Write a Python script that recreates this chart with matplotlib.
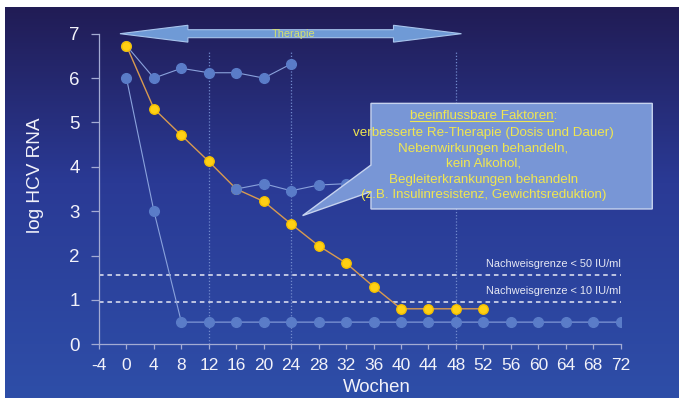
import numpy as np
import matplotlib
matplotlib.use("Agg")
import matplotlib.pyplot as plt
from matplotlib.colors import LinearSegmentedColormap
from matplotlib.patches import Polygon

plt.rcParams["font.family"] = ["Liberation Sans", "DejaVu Sans"]
plt.rcParams["axes.unicode_minus"] = False

# data
weeks_ticks = list(range(-4, 76, 4))
hcv_ticks = list(range(0, 8))

weeks_a = [0, 4, 8, 12, 16, 20, 24]
hcv_a = [6.73, 6.0, 6.22, 6.12, 6.12, 6.0, 6.32]

weeks_b = [16, 20, 24, 28, 32]
hcv_b = [3.5, 3.62, 3.46, 3.59, 3.62]

weeks_c = [0, 4] + list(range(8, 76, 4))
hcv_c = [6.0, 3.0] + [0.5] * 17

weeks_y = [0, 4, 8, 12, 16, 20, 24, 28, 32, 36, 40, 44, 48, 52]
hcv_y = [6.73, 5.31, 4.71, 4.12, 3.5, 3.22, 2.71, 2.22, 1.83, 1.3, 0.8, 0.8, 0.8, 0.8]

vlines_x = [12, 24, 48]
limits = [1.56, 0.96]
limit_labels = ["Nachweisgrenze < 50 IU/ml", "Nachweisgrenze < 10 IU/ml"]
limit_label_y = [1.81, 1.19]

callout_lines = [
    "verbesserte Re-Therapie (Dosis und Dauer)",
    "Nebenwirkungen behandeln,",
    "kein Alkohol,",
    "Begleiterkrankungen behandeln",
    "(z.B. Insulinresistenz, Gewichtsreduktion)",
]

W, H = 679, 401
fig = plt.figure(figsize=(W / 100, H / 100), dpi=100, facecolor="white")

# background gradient
bg = fig.add_axes([5 / W, 3 / H, 674 / W, 391 / H])
cmap = LinearSegmentedColormap.from_list(
    "bg", [(0, "#211c55"), (0.45, "#2a3a95"), (1, "#2e4ea8")])
grad = np.linspace(0, 1, 256).reshape(-1, 1)
bg.imshow(grad, aspect="auto", cmap=cmap, extent=[0, 1, 0, 1], origin="upper")
bg.set_axis_off()

x0, x1 = 99, 620.7
ytop, ybot = 33.7, 344.3
ax = fig.add_axes([x0 / W, (H - ybot) / H, (x1 - x0) / W, (ybot - ytop) / H])
ax.set_facecolor("none")
ax.set_xlim(-4, 72)
ax.set_ylim(0, 7)

for s in ["top", "right"]:
    ax.spines[s].set_visible(False)
for s in ["left", "bottom"]:
    ax.spines[s].set_color("#a3abd3")
    ax.spines[s].set_linewidth(0.9)

ax.set_xticks(weeks_ticks)
ax.set_yticks(hcv_ticks)
ax.tick_params(axis="y", direction="out", length=6, width=0.9, color="#a3abd3",
               labelcolor="#f2f2fa", labelsize=13.5, pad=8)
ax.tick_params(axis="x", direction="out", length=3.6, width=0.9, color="#a3abd3",
               labelcolor="#f2f2fa", labelsize=12.5, pad=6)

# vertical dotted guides and detection limits
for xv in vlines_x:
    ax.plot([xv, xv], [0, 6.6], color="#7189cc", lw=0.9, ls=(0, (1, 1.5)), zorder=1)
for yv, lab, ly in zip(limits, limit_labels, limit_label_y):
    ax.axhline(yv, color="#e6e8f4", lw=1.1, ls=(0, (3, 2.5)), zorder=1)
    ax.text(72, ly, lab, ha="right", va="center", color="#e6e8f4", fontsize=7.9)

blue_line = "#8aa2dc"
blue_dot = "#5a7cc8"
ax.plot(weeks_c, hcv_c, color=blue_line, lw=0.8, marker="o", ms=7,
        mfc=blue_dot, mec=blue_dot, zorder=2)
ax.plot(weeks_a, hcv_a, color=blue_line, lw=0.8, marker="o", ms=7,
        mfc=blue_dot, mec=blue_dot, zorder=2)
ax.plot(weeks_y, hcv_y, color="#d89a50", lw=1.0, marker="o", ms=6.8,
        mfc="#ffd014", mec="#f5c000", zorder=3)
ax.plot(weeks_b, hcv_b, color=blue_line, lw=0.8, marker="o", ms=7,
        mfc=blue_dot, mec=blue_dot, zorder=4)

# therapy arrow
arrow = Polygon([(-0.95, 7.0), (8.95, 7.19), (8.95, 7.09), (38.9, 7.09), (38.9, 7.19),
                 (48.8, 7.0), (38.9, 6.81), (38.9, 6.91), (8.95, 6.91), (8.95, 6.81)],
                closed=True, fc="#6f9ad6", ec="#a8c4ec", lw=0.8, clip_on=False, zorder=5)
ax.add_patch(arrow)
ax.text(24.3, 7.0, "Therapie", ha="center", va="center", color="#d4e070",
        fontsize=7.9, zorder=6, clip_on=False)

# callout
callout = Polygon([(35.62, 5.43), (76.6, 5.43), (76.6, 3.05), (35.62, 3.05),
                   (35.62, 3.44), (25.66, 2.90), (35.62, 4.04)],
                  closed=True, fc="#7896d6", ec="#c6d3ef", lw=1.0, clip_on=False, zorder=7)
ax.add_patch(callout)
cx = 52.0
txt_color = "#f0e650"
fs = 9.6
head = ax.text(cx, 5.14, "beeinflussbare Faktoren:", ha="center", va="center",
               color=txt_color, fontsize=fs, zorder=8, clip_on=False)
line_y = [4.77, 4.40, 4.08, 3.70, 3.36]
for ly, s in zip(line_y, callout_lines):
    ax.text(cx, ly, s, ha="center", va="center", color=txt_color, fontsize=fs,
            zorder=8, clip_on=False)

# underline the heading (without the colon)
fig.canvas.draw()
r = fig.canvas.get_renderer()
bb = head.get_window_extent(r)
probe = ax.text(0, 0, ":", fontsize=fs)
colon_w = probe.get_window_extent(r).width
probe.remove()
inv = ax.transData.inverted()
(ux0, uy), (ux1, _) = inv.transform([(bb.x0, bb.y0 + 1.5), (bb.x1 - colon_w, bb.y0 + 1.5)])
ax.plot([ux0, ux1], [uy, uy], color=txt_color, lw=0.8, zorder=8, clip_on=False)

fig.text(35 / W, 1 - 175 / H, "log HCV RNA", rotation=90, ha="center", va="center",
         color="#f2f2fa", fontsize=13.7)
fig.text(377 / W, 1 - 387 / H, "Wochen", ha="center", va="center",
         color="#f2f2fa", fontsize=13.4)

fig.savefig("out.png", dpi=100, facecolor="white")
